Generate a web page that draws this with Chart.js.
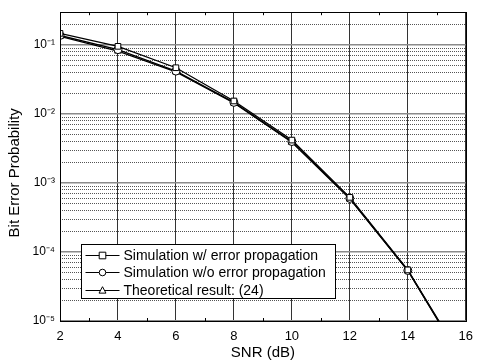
<!DOCTYPE html>
<html><head><meta charset="utf-8">
<script src="https://cdn.jsdelivr.net/npm/chart.js@4"></script>
<style>html,body{margin:0;padding:0;background:#fff}#wrap{width:481px;height:363px}</style>
</head><body><div id="wrap"><canvas id="c" width="481" height="363"></canvas></div>
<script>
const snrDb = [2, 4, 6, 8, 10, 12, 14, 16];
const berWithProp = [0.148, 0.096, 0.047, 0.0155, 0.0042, 0.00062, 0.000055, 0.0000023];
const berWithoutProp = [0.138, 0.086, 0.042, 0.0148, 0.0040, 0.00060, 0.000054, 0.0000022];
const berTheory = [0.134, 0.082, 0.041, 0.0145, 0.0039, 0.00059, 0.000054, 0.0000022];
const seriesLabels = ['Simulation w/ error propagation', 'Simulation w/o error propagation', 'Theoretical result: (24)'];
const xTickValues = [2, 4, 6, 8, 10, 12, 14, 16];
const xMinorTicks = [3, 5, 7, 9, 11, 13, 15];
const yDecades = [1e-5, 1e-4, 1e-3, 1e-2, 1e-1];
const yDecadeLabels = ['10\u207B\u2075', '10\u207B\u2074', '10\u207B\u00B3', '10\u207B\u00B2', '10\u207B\u00B9'];
const yMin = 1e-5, yMax = 0.3;

const FONT = "'Liberation Sans', Arial, sans-serif";

function pts(ys) { return snrDb.map((x, i) => ({ x: x, y: ys[i] })); }
const radii = snrDb.map(x => x > 14 ? 0 : 4);

function yTickList() {
  const out = [];
  for (let e = -5; e <= -1; e++) {
    for (let m = 1; m <= 9; m++) {
      const v = m * Math.pow(10, e);
      if (v <= yMax * 1.0001) out.push({ value: v, major: m === 1 });
    }
  }
  return out;
}
function decadeLabel(v) {
  for (let i = 0; i < yDecades.length; i++) {
    if (Math.abs(v / yDecades[i] - 1) < 1e-6) return yDecadeLabels[i];
  }
  return '';
}

function drawMarker(ctx, style, x, y, r) {
  ctx.beginPath();
  if (style === 'rect') {
    ctx.rect(x - r, y - r, 2 * r, 2 * r);
  } else if (style === 'circle') {
    ctx.arc(x, y, r, 0, Math.PI * 2);
  } else {
    ctx.moveTo(x, y - r * 1.15);
    ctx.lineTo(x + r * 1.05, y + r * 0.8);
    ctx.lineTo(x - r * 1.05, y + r * 0.8);
    ctx.closePath();
  }
  ctx.fillStyle = '#fff';
  ctx.fill();
  ctx.strokeStyle = '#000';
  ctx.lineWidth = 1;
  ctx.stroke();
}

const framePlugin = {
  id: 'frame',
  afterDatasetsDraw(chart) {
    const { ctx, chartArea: a, scales } = chart;
    ctx.save();
    ctx.strokeStyle = '#000';
    ctx.lineWidth = 1;
    ctx.strokeRect(Math.round(a.left) + 0.5, Math.round(a.top) + 0.5, Math.round(a.right - a.left), Math.round(a.bottom - a.top));
    xMinorTicks.forEach(v => {
      const px = Math.round(scales.x.getPixelForValue(v)) + 0.5;
      ctx.beginPath();
      ctx.moveTo(px, a.top); ctx.lineTo(px, a.top + 3);
      ctx.moveTo(px, a.bottom); ctx.lineTo(px, a.bottom - 3);
      ctx.stroke();
    });
    const styles = ['rect', 'circle', 'triangle'];
    const bx = Math.round(a.left + 21) + 0.5, by = Math.round(a.bottom - 77) + 0.5;
    const bw = 254, bh = 54;
    ctx.fillStyle = '#fff';
    ctx.fillRect(bx, by, bw, bh);
    ctx.strokeRect(bx, by, bw, bh);
    ctx.font = '14px ' + FONT;
    ctx.textBaseline = 'middle';
    ctx.textAlign = 'left';
    chart.data.datasets.forEach((ds, i) => {
      const cy = Math.round(by + 10 + i * 17.5);
      ctx.strokeStyle = '#000';
      ctx.lineWidth = 1;
      ctx.beginPath();
      ctx.moveTo(bx + 4, cy + 0.5); ctx.lineTo(bx + 38, cy + 0.5);
      ctx.stroke();
      drawMarker(ctx, styles[i], bx + 21, cy + 0.5, 3.3);
      ctx.fillStyle = '#000';
      ctx.fillText(ds.label, bx + 42, cy + 1);
    });
    ctx.restore();
  }
};

new Chart(document.getElementById('c'), {
  type: 'line',
  data: {
    datasets: [
      { label: seriesLabels[0], data: pts(berWithProp), pointStyle: 'rect', borderColor: '#000', borderWidth: 1.3,
        pointRadius: radii, pointBackgroundColor: '#fff', pointBorderColor: '#000', pointBorderWidth: 1, tension: 0 },
      { label: seriesLabels[1], data: pts(berWithoutProp), pointStyle: 'circle', borderColor: '#000', borderWidth: 1.3,
        pointRadius: radii, pointBackgroundColor: '#fff', pointBorderColor: '#000', pointBorderWidth: 1, tension: 0 },
      { label: seriesLabels[2], data: pts(berTheory), pointStyle: 'triangle', borderColor: '#000', borderWidth: 1.3,
        pointRadius: radii, pointBackgroundColor: '#fff', pointBorderColor: '#000', pointBorderWidth: 1, tension: 0 }
    ]
  },
  options: {
    responsive: false,
    animation: false,
    devicePixelRatio: 1,
    layout: { padding: { top: 12, right: 5, left: 0, bottom: 0 } },
    plugins: { legend: { display: false }, tooltip: { enabled: false } },
    scales: {
      x: {
        type: 'linear', min: 2, max: 16,
        afterBuildTicks(s) { s.ticks = xTickValues.map(v => ({ value: v })); },
        afterFit(s) { s.height = 42; },
        grid: { color: '#333', lineWidth: 1, drawTicks: false },
        border: { display: false },
        ticks: { color: '#000', font: { family: FONT, size: 13 }, padding: 8, autoSkip: false, maxRotation: 0 },
        title: { display: true, text: 'SNR (dB)', color: '#000', font: { family: FONT, size: 15 }, padding: { top: 0, bottom: 1 } }
      },
      y: {
        type: 'logarithmic', min: yMin, max: yMax,
        afterBuildTicks(s) { s.ticks = yTickList(); },
        afterFit(s) { s.width = 60; },
        grid: {
          drawTicks: false,
          color: c => (c.tick && c.tick.major) ? '#8a8a8a' : '#555',
          lineWidth: c => (c.tick && c.tick.major) ? 1.6 : 1
        },
        border: { display: false, dash: c => (c.tick && c.tick.major) ? [] : [1, 1] },
        ticks: { color: '#000', font: { family: FONT, size: 12 }, padding: 5, autoSkip: false,
          callback: v => decadeLabel(v) },
        title: { display: true, text: 'Bit Error Probability   ', color: '#000', font: { family: FONT, size: 15 }, padding: { top: 6, bottom: 0 } }
      }
    }
  },
  plugins: [framePlugin]
});
</script>
</body></html>
